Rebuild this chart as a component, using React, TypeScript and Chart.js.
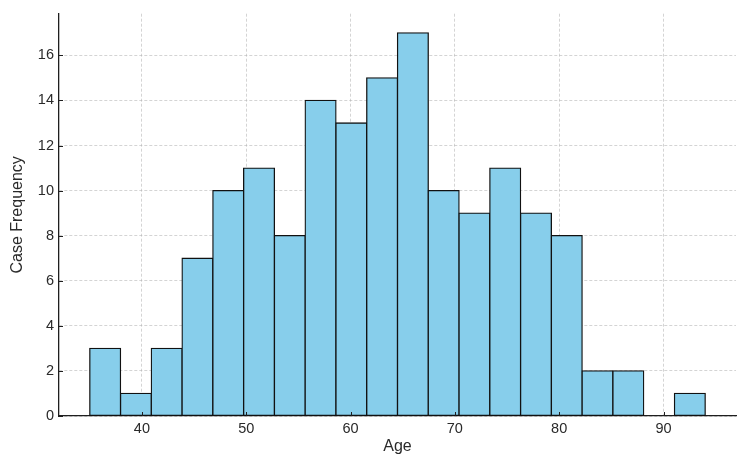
import React, { useEffect, useRef } from 'react';
import { Chart, registerables } from 'chart.js';

Chart.register(...registerables);

// Histogram bin edges (ages) and case counts per bin
const binEdges = [
  35.0, 37.95, 40.9, 43.85, 46.8, 49.75, 52.7, 55.65, 58.6, 61.55, 64.5,
  67.45, 70.4, 73.35, 76.3, 79.25, 82.2, 85.15, 88.1, 91.05, 94.0,
];
const frequencies = [3, 1, 3, 7, 10, 11, 8, 14, 13, 15, 17, 10, 9, 11, 9, 8, 2, 2, 0, 1];

const xTickValues = [40, 50, 60, 70, 80, 90];
const yTickValues = [0, 2, 4, 6, 8, 10, 12, 14, 16];

const xLabel = 'Age';
const yLabel = 'Case Frequency';

const FONT = "'Liberation Sans', Arial, sans-serif";
const TEXT = '#2a2a2a';
const SPINE = '#1f1f1f';

const innerTicks = {
  id: 'innerTicks',
  afterDatasetsDraw(chart: any) {
    const { ctx, chartArea, scales } = chart;
    const x = scales.x;
    const y = scales.y;
    ctx.save();
    ctx.strokeStyle = SPINE;
    ctx.lineWidth = 1;
    ctx.beginPath();
    x.ticks.forEach((t: any) => {
      const px = Math.round(x.getPixelForValue(t.value)) + 0.5;
      ctx.moveTo(px, chartArea.bottom);
      ctx.lineTo(px, chartArea.bottom - 4);
    });
    y.ticks.forEach((t: any) => {
      const py = Math.round(y.getPixelForValue(t.value)) + 0.5;
      ctx.moveTo(chartArea.left, py);
      ctx.lineTo(chartArea.left + 4, py);
    });
    ctx.stroke();
    ctx.restore();
  },
};

export default function App() {
  const ref = useRef<HTMLCanvasElement>(null);

  useEffect(() => {
    if (!ref.current) return;
    const points = frequencies.map((f, i) => ({
      x: (binEdges[i] + binEdges[i + 1]) / 2,
      y: f,
    }));
    const lo = binEdges[0];
    const hi = binEdges[binEdges.length - 1];
    const margin = (hi - lo) * 0.05;
    const yMax = Math.max(...frequencies) * 1.05;

    const chart = new Chart(ref.current, {
      type: 'bar',
      data: {
        datasets: [
          {
            data: points as any,
            backgroundColor: '#87CEEB',
            borderColor: '#111111',
            borderWidth: 1.3,
            borderSkipped: false,
            inflateAmount: 0.65,
            barPercentage: 1,
            categoryPercentage: 1,
          } as any,
        ],
      },
      options: {
        responsive: false,
        animation: false,
        devicePixelRatio: 1,
        layout: { padding: { top: 13, right: 18, left: 0, bottom: 0 } },
        plugins: {
          legend: { display: false },
          tooltip: { enabled: false },
        },
        scales: {
          x: {
            type: 'linear',
            min: lo - margin,
            max: hi + margin,
            offset: false,
            afterBuildTicks: (s: any) => {
              s.ticks = xTickValues.map((v) => ({ value: v }));
            },
            afterFit: (s: any) => {
              s.height = 51;
            },
            grid: {
              offset: false,
              color: 'rgba(176,176,176,0.55)',
              lineWidth: 1,
              drawTicks: false,
            },
            border: { display: true, color: SPINE, width: 1.3, dash: [3, 2] },
            ticks: {
              color: TEXT,
              padding: 4,
              font: { family: FONT, size: 14.5 },
              maxRotation: 0,
              callback: (v: any) => String(v),
            },
            title: {
              display: true,
              text: xLabel,
              color: TEXT,
              font: { family: FONT, size: 16 },
              padding: { top: 0, bottom: 11 },
            },
          },
          y: {
            type: 'linear',
            min: 0,
            max: yMax,
            afterBuildTicks: (s: any) => {
              s.ticks = yTickValues.map((v) => ({ value: v }));
            },
            afterFit: (s: any) => {
              s.width = 59;
            },
            grid: {
              color: 'rgba(176,176,176,0.55)',
              lineWidth: 1,
              drawTicks: false,
            },
            border: { display: true, color: SPINE, width: 1.3, dash: [3, 2] },
            ticks: {
              color: TEXT,
              padding: 5,
              font: { family: FONT, size: 14.5 },
              callback: (v: any) => String(v),
            },
            title: {
              display: true,
              text: yLabel,
              color: TEXT,
              font: { family: FONT, size: 16 },
              padding: { top: 8, bottom: 0 },
            },
          },
        },
      },
      plugins: [innerTicks],
    });
    return () => chart.destroy();
  }, []);

  return (
    <div
      style={{
        position: 'fixed',
        left: 0,
        top: 0,
        width: 754,
        height: 467,
        background: '#ffffff',
      }}
    >
      <canvas ref={ref} width={754} height={467} style={{ display: 'block' }} />
    </div>
  );
}
